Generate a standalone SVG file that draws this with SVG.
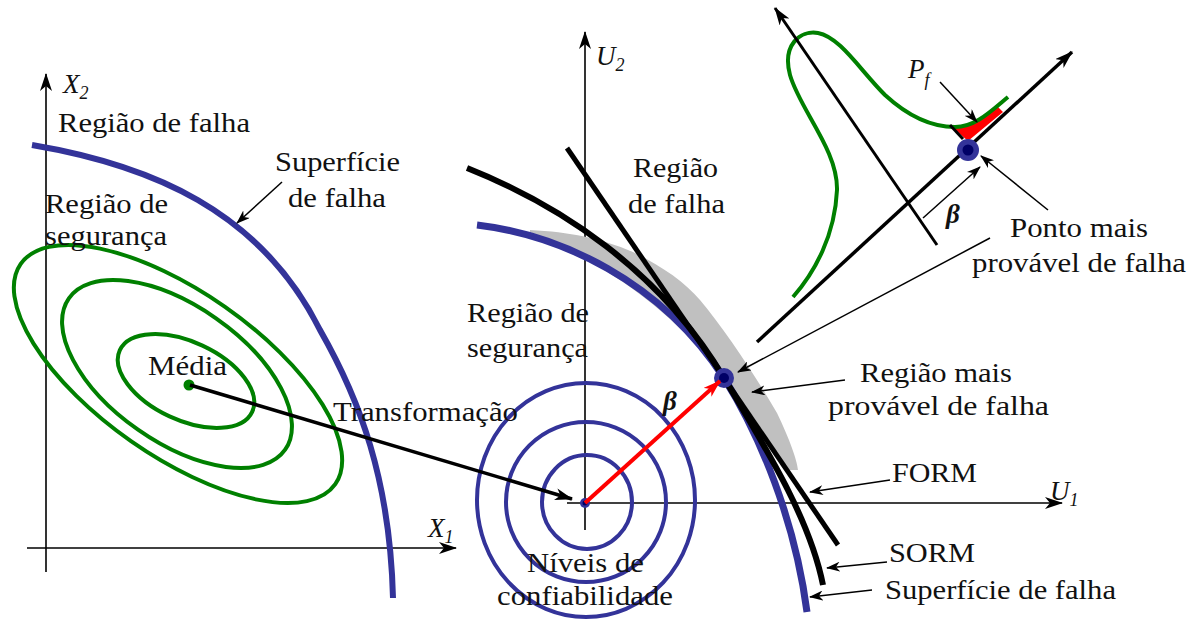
<svg xmlns="http://www.w3.org/2000/svg" width="1200" height="619" viewBox="0 0 1200 619" font-family="'Liberation Serif', 'Times New Roman', 'DejaVu Serif', serif">
<style>
text{font-family:'Liberation Serif','Times New Roman','DejaVu Serif',serif;font-size:27px;fill:#111}
.it{font-style:italic}
.axis{stroke:#000;stroke-width:1.6;fill:none}
.thin{stroke:#000;stroke-width:1.5;fill:none}
.blue{stroke:#333399;fill:none}
.green{stroke:#008000;fill:none;stroke-width:4}
</style>
<defs>
<marker id="ah" viewBox="0 0 14 10" refX="13" refY="5" markerWidth="14" markerHeight="10" orient="auto" markerUnits="userSpaceOnUse"><path d="M0,0 L14,5 L0,10 L4,5 Z" fill="#000"/></marker>
<marker id="ahB" viewBox="0 0 18 12" refX="17" refY="6" markerWidth="18" markerHeight="12" orient="auto" markerUnits="userSpaceOnUse"><path d="M0,0 L18,6 L0,12 L5,6 Z" fill="#000"/></marker>
<marker id="ahR" viewBox="0 0 18 12" refX="17" refY="6" markerWidth="18" markerHeight="12" orient="auto" markerUnits="userSpaceOnUse"><path d="M0,0 L18,6 L0,12 L5,6 Z" fill="#ff0000"/></marker>
</defs>

<g id="left-axes">
<line class="axis" x1="46" y1="572" x2="46" y2="74" marker-end="url(#ahB)"/>
<line class="axis" x1="27" y1="548" x2="456" y2="548" marker-end="url(#ahB)"/>
<text class="it" x="63" y="93" font-family="'Liberation Serif', serif">X<tspan font-size="18" dy="6">2</tspan></text>
<text class="it" x="428" y="537" font-family="'Liberation Serif', serif">X<tspan font-size="18" dy="6">1</tspan></text>
</g>

<g id="left-ellipses">
<ellipse class="green" cx="178" cy="374" rx="192" ry="82" transform="rotate(35 178 374)"/>
<ellipse class="green" cx="177" cy="374" rx="132" ry="68" transform="rotate(35 177 374)"/>
<ellipse class="green" cx="186" cy="381" rx="73" ry="39" transform="rotate(25 186 381)"/>
</g>

<g id="left-surface">
<path class="blue" stroke-width="6" d="M32,145 C150,165 260,210 320,330 C360,400 390,480 393,598"/>
</g>

<g id="mean">
<circle cx="189" cy="385" r="5.5" fill="#008000"/>
<text x="148" y="375" textLength="79" lengthAdjust="spacingAndGlyphs" font-family="'Liberation Serif', serif">Média</text>
</g>

<g id="u-axes">
<line class="axis" x1="585" y1="530" x2="585" y2="32" marker-end="url(#ahB)"/>
<line class="axis" x1="567" y1="503" x2="1062" y2="503" marker-end="url(#ahB)"/>
<text class="it" x="596" y="65" font-family="'Liberation Serif', serif">U<tspan font-size="18" dy="6">2</tspan></text>
<text class="it" x="1050" y="500" font-family="'Liberation Serif', serif">U<tspan font-size="18" dy="6">1</tspan></text>
</g>

<g id="gray-region">
<path fill="#c0c0c0" d="M530,230 C570,232 600,238 633,252 C660,265 685,282 700,300 C725,330 755,375 777,413 C790,440 797,460 798,470 L786,470 C770,440 750,410 724,378 C680,320 620,270 530,232 Z"/>
</g>

<g id="confidence-levels">
<ellipse class="blue" stroke-width="4" cx="586" cy="500" rx="109" ry="117"/>
<ellipse class="blue" stroke-width="4" cx="586" cy="502" rx="80" ry="80"/>
<ellipse class="blue" stroke-width="4" cx="587" cy="502" rx="45" ry="47"/>
<circle cx="585" cy="503" r="5" fill="#333399"/>
<circle cx="585" cy="503" r="2.5" fill="#000066"/>
</g>

<g id="failure-surface">
<path class="blue" stroke-width="7" d="M477,225 C560,235 660,280 724,378 C760,435 795,520 807,612"/>
</g>

<g id="sorm">
<path stroke="#000" stroke-width="6" fill="none" d="M467,168 C560,205 660,270 724,378 C770,455 810,520 823,585"/>
</g>

<g id="form">
<line stroke="#000" stroke-width="5" x1="567" y1="148" x2="838" y2="545"/>
</g>

<g id="design-point">
<circle cx="724" cy="378" r="10" fill="#333399"/>
<circle cx="724" cy="378" r="5" fill="#000066"/>
</g>

<g id="inset">
<path fill="#ff0000" d="M952,127 L968,141 L1003,112 L998,107 L975,123 Z"/>
<path class="green" stroke-width="4.5" d="M793,297 C815,272 835,235 837,190 C838,150 800,110 790,75 C782,45 800,30 818,33 C840,37 860,70 885,95 C910,118 935,127 955,127 C975,127 990,112 1008,97"/>
<line stroke="#000" stroke-width="3.5" x1="757" y1="342" x2="1072" y2="52" marker-end="url(#ahB)"/>
<line stroke="#000" stroke-width="3" x1="937" y1="245" x2="775" y2="8" marker-end="url(#ahB)"/>
<line stroke="#000" stroke-width="3" x1="950" y1="125" x2="963" y2="139"/>
<circle cx="968" cy="150" r="11" fill="#333399"/>
<circle cx="968" cy="150" r="5.5" fill="#000066"/>
<text class="it" x="908" y="78" font-family="'Liberation Serif', serif">P<tspan font-size="18" dy="8">f</tspan></text>
<text class="it" x="946" y="223" font-weight="bold" font-family="'Liberation Serif', serif">β</text>
</g>

<g id="connectors">
<line stroke="#000" stroke-width="3.5" x1="190" y1="385" x2="572" y2="499" marker-end="url(#ahB)"/>
<line stroke="#ff0000" stroke-width="4" x1="585" y1="503" x2="720" y2="381" marker-end="url(#ahR)"/>
<line class="thin" x1="282" y1="182" x2="237" y2="223" marker-end="url(#ah)"/>
<line class="thin" x1="990" y1="238" x2="738" y2="372" marker-end="url(#ah)"/>
<line class="thin" x1="845" y1="380" x2="752" y2="392" marker-end="url(#ah)"/>
<line class="thin" x1="890" y1="480" x2="810" y2="492" marker-end="url(#ah)"/>
<line class="thin" x1="887" y1="562" x2="827" y2="568" marker-end="url(#ah)"/>
<line class="thin" x1="872" y1="590" x2="810" y2="597" marker-end="url(#ah)"/>
<line class="thin" x1="940" y1="82" x2="977" y2="122" marker-end="url(#ah)"/>
<line class="thin" x1="923" y1="218" x2="980" y2="167" marker-end="url(#ah)"/>
<line class="thin" x1="1048" y1="210" x2="981" y2="156" marker-end="url(#ah)"/>
</g>

<g id="labels" font-family="'Liberation Serif', serif">
<text x="58" y="132" textLength="192" lengthAdjust="spacingAndGlyphs">Região de falha</text>
<text x="275" y="171" textLength="125" lengthAdjust="spacingAndGlyphs">Superfície</text>
<text x="288" y="207" textLength="98" lengthAdjust="spacingAndGlyphs">de falha</text>
<text x="45" y="213" textLength="123" lengthAdjust="spacingAndGlyphs">Região de</text>
<text x="45" y="245" textLength="122" lengthAdjust="spacingAndGlyphs">segurança</text>
<text x="333" y="421" textLength="185" lengthAdjust="spacingAndGlyphs">Transformação</text>
<text x="633" y="177" textLength="85" lengthAdjust="spacingAndGlyphs">Região</text>
<text x="628" y="213" textLength="97" lengthAdjust="spacingAndGlyphs">de falha</text>
<text x="467" y="322" textLength="122" lengthAdjust="spacingAndGlyphs">Região de</text>
<text x="467" y="357" textLength="121" lengthAdjust="spacingAndGlyphs">segurança</text>
<text x="527" y="572" textLength="117" lengthAdjust="spacingAndGlyphs">Níveis de</text>
<text x="497" y="605" textLength="176" lengthAdjust="spacingAndGlyphs">confiabilidade</text>
<text class="it" x="663" y="410" font-weight="bold">β</text>
<text x="860" y="382" textLength="152" lengthAdjust="spacingAndGlyphs">Região mais</text>
<text x="828" y="415" textLength="221" lengthAdjust="spacingAndGlyphs">provável de falha</text>
<text x="1010" y="237" textLength="138" lengthAdjust="spacingAndGlyphs">Ponto mais</text>
<text x="972" y="272" textLength="214" lengthAdjust="spacingAndGlyphs">provável de falha</text>
<text x="892" y="482" textLength="85" lengthAdjust="spacingAndGlyphs">FORM</text>
<text x="889" y="562" textLength="86" lengthAdjust="spacingAndGlyphs">SORM</text>
<text x="885" y="599" textLength="231" lengthAdjust="spacingAndGlyphs">Superfície de falha</text>
</g>
</svg>
